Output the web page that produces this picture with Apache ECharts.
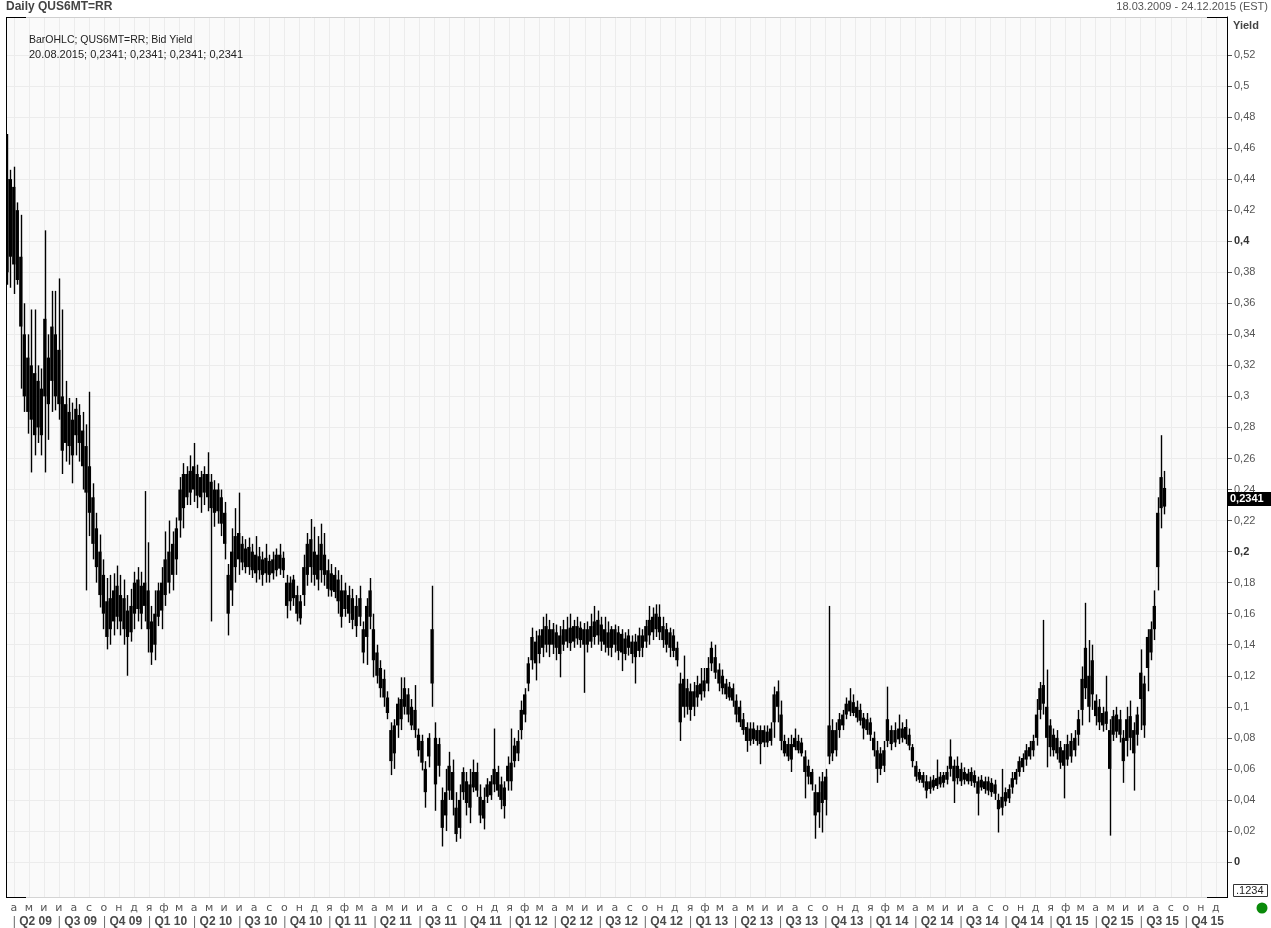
<!DOCTYPE html>
<html>
<head>
<meta charset="utf-8">
<style>
  html, body { margin: 0; padding: 0; background: #ffffff; }
  #chart { width: 1271px; height: 928px; }
</style>
<script src="https://cdn.jsdelivr.net/npm/echarts@6.0.0/dist/echarts.min.js"></script>
</head>
<body>
<div id="chart"></div>
<script>
// ---------------- DATA (weekly OHLC envelope, in units of 0.001 yield) ----------------
const firstBarDate = '2009-03-18';   // weekly bars from here, 7 days apart
const rangeStart = '2009-03-18';
const rangeEnd = '2015-12-24';

const wickLow = [
  372,370,366,372,305,290,276,251,262,270,
  262,251,272,290,291,285,250,258,256,244,
  262,258,240,175,210,195,180,164,150,137,
  140,146,150,146,140,120,142,150,155,150,
  155,135,127,130,152,150,165,173,175,185,
  209,215,230,230,232,228,225,230,226,155,
  216,218,210,195,146,165,180,185,188,186,
  185,183,180,182,178,180,180,182,184,185,
  183,157,162,165,155,153,165,178,180,178,
  175,180,178,171,171,170,160,151,158,154,
  150,145,152,128,127,150,119,115,106,100,
  92,56,60,80,85,95,90,85,80,68,
  59,35,61,100,33,55,10,20,40,30,
  13,15,40,30,25,45,42,25,21,38,
  40,45,42,34,28,46,46,61,65,79,
  90,110,124,117,128,132,135,132,134,130,
  119,136,138,136,138,140,138,109,135,138,
  140,140,136,135,133,132,135,130,123,130,
  133,128,115,132,132,138,140,143,145,143,
  138,135,132,132,126,78,93,95,91,94,
  100,104,106,110,123,118,110,108,105,104,
  100,90,87,82,71,75,76,75,63,74,
  74,75,80,90,72,68,65,58,72,70,
  68,41,50,46,15,22,19,30,63,65,
  68,80,85,92,94,94,90,88,79,82,
  78,68,51,56,58,74,72,74,76,77,
  76,72,61,52,51,48,41,44,46,47,
  48,48,50,55,38,50,49,50,50,49,
  48,30,46,44,43,42,40,19,30,36,
  38,44,50,55,58,62,66,68,75,92,
  95,61,68,68,66,60,41,62,64,68,
  75,88,105,90,98,88,85,84,85,17,
  78,80,77,51,68,72,46,75,85,80,
  110,130,143,175,215,224
];

const bodyLow = [
  380,390,385,375,345,300,290,285,275,280,
  275,300,295,310,300,295,265,270,268,262,
  275,270,255,238,225,205,190,172,160,145,
  150,155,158,155,150,145,148,160,163,160,
  165,150,135,140,158,162,172,180,185,195,
  220,228,235,238,240,236,235,238,235,228,
  225,226,218,205,160,175,190,195,193,190,
  190,188,186,188,185,186,185,186,188,189,
  188,165,168,170,160,157,172,185,190,185,
  182,188,185,176,175,174,168,158,163,160,
  156,152,158,135,145,158,130,120,112,106,
  96,65,70,88,92,100,95,88,85,72,
  64,45,68,115,50,62,22,30,46,40,
  18,22,45,38,35,48,46,30,28,42,
  43,50,46,40,36,52,52,65,70,85,
  95,115,130,128,134,138,140,140,140,138,
  134,140,142,141,142,144,143,140,140,142,
  145,146,142,140,138,138,140,136,135,134,
  138,134,132,136,138,142,146,148,150,148,
  143,140,138,136,130,90,100,100,98,100,
  106,108,110,115,128,122,115,112,108,106,
  104,95,90,85,78,78,79,78,76,77,
  77,78,90,100,78,70,68,66,74,72,
  70,58,55,50,30,32,38,40,68,70,
  72,85,88,95,97,96,93,91,86,85,
  82,72,60,60,62,78,76,77,79,80,
  79,75,65,55,53,51,46,47,48,49,
  50,51,53,60,52,54,52,53,52,52,
  51,44,48,47,46,45,44,34,35,39,
  41,48,53,58,61,66,68,72,80,98,
  102,80,74,72,70,64,62,66,68,72,
  82,98,112,100,108,94,90,88,89,60,
  82,84,82,65,78,80,70,82,105,88,
  125,135,150,190,228,229
];

const bodyHigh = [
  440,440,435,420,390,340,325,320,315,310,
  305,350,325,345,340,330,300,295,290,285,
  292,288,278,268,255,235,215,200,185,168,
  170,175,178,172,170,162,165,180,182,178,
  180,175,155,160,175,180,195,200,205,215,
  240,250,250,252,255,250,248,250,250,245,
  240,240,235,225,185,200,210,212,205,202,
  203,200,198,197,195,196,194,195,198,198,
  196,180,180,182,172,168,190,205,208,200,
  198,205,198,188,186,185,182,175,175,172,
  170,165,170,150,165,175,150,135,125,118,
  106,85,88,102,105,112,108,100,98,82,
  78,60,80,150,80,76,40,45,62,58,
  35,40,58,52,50,58,58,42,40,50,
  52,60,58,50,48,62,64,75,78,98,
  108,128,145,142,146,150,152,150,150,148,
  146,150,150,151,152,152,151,150,150,152,
  155,156,153,150,148,150,150,148,147,144,
  146,142,142,146,146,152,156,158,160,158,
  152,150,148,146,138,115,118,112,110,110,
  114,115,117,125,138,132,124,120,115,113,
  112,104,100,92,87,86,86,85,85,85,
  84,86,108,110,95,78,76,76,80,78,
  77,68,62,58,45,45,52,55,88,85,
  85,92,95,102,104,103,100,98,93,92,
  90,80,72,70,72,92,85,85,86,86,
  87,82,74,62,58,56,52,52,53,54,
  55,56,58,68,62,62,60,58,57,58,
  56,52,53,52,52,51,50,40,42,45,
  47,54,58,65,67,72,74,78,95,112,
  114,100,88,82,80,74,72,76,78,80,
  92,118,138,120,130,104,100,96,97,85,
  94,95,92,80,92,94,85,95,122,115,
  145,150,165,225,248,241
];

const wickHigh = [
  469,446,448,425,417,360,340,356,356,320,
  318,407,340,368,368,376,356,310,299,296,
  299,295,290,282,303,244,225,211,195,183,
  185,186,191,185,182,172,176,187,190,187,
  239,206,165,175,180,190,213,220,213,222,
  248,257,255,262,270,256,252,255,264,250,
  246,244,240,232,192,215,228,238,210,208,
  209,205,210,203,200,205,198,200,202,205,
  200,185,184,185,178,172,198,212,221,216,
  210,218,212,195,192,190,188,185,180,178,
  176,172,178,155,170,183,160,140,130,124,
  110,90,92,106,119,119,112,105,114,86,
  82,65,83,178,90,80,48,60,71,66,
  45,50,61,58,60,66,64,50,48,54,
  56,86,62,55,52,68,86,80,85,104,
  112,132,151,149,150,158,160,156,154,153,
  152,156,158,160,156,158,155,154,155,160,
  165,162,158,158,155,152,153,152,150,148,
  150,146,147,151,150,156,165,164,166,166,
  158,154,151,150,142,122,133,118,115,116,
  120,125,125,132,142,140,128,124,118,116,
  115,108,104,96,90,90,90,88,88,88,
  88,90,113,117,104,82,80,82,86,82,
  80,72,66,60,50,55,58,60,165,92,
  90,96,98,106,112,108,104,102,96,96,
  93,84,78,74,78,113,88,90,95,90,
  92,86,76,65,60,58,56,55,56,66,
  58,58,62,79,66,68,64,61,60,61,
  59,55,56,55,55,54,53,44,60,48,
  50,58,60,68,70,76,78,82,105,116,
  156,124,92,86,85,78,76,82,83,85,
  98,126,167,143,140,108,105,100,120,92,
  98,100,98,85,100,104,90,100,137,120,
  150,155,175,235,275,252
];

const lastValue = 0.2341;
const lastDateText = '20.08.2015';

// ---------------- TICK LABELS ----------------
const monthLetters = ['а','м','и','и','а','с','о','н','д','я','ф','м']; // April-first
const quarterLabels = ['Q2 09','Q3 09','Q4 09','Q1 10','Q2 10','Q3 10','Q4 10','Q1 11','Q2 11','Q3 11','Q4 11',
  'Q1 12','Q2 12','Q3 12','Q4 12','Q1 13','Q2 13','Q3 13','Q4 13','Q1 14','Q2 14','Q3 14','Q4 14',
  'Q1 15','Q2 15','Q3 15','Q4 15'];
const yTicks = [0,0.02,0.04,0.06,0.08,0.1,0.12,0.14,0.16,0.18,0.2,0.22,0.24,0.26,0.28,0.3,
  0.32,0.34,0.36,0.38,0.4,0.42,0.44,0.46,0.48,0.5,0.52];
const boldTicks = [0, 0.2, 0.4];

// ---------------- helpers ----------------
function parseUTC(s){ const p = s.split('-').map(Number); return Date.UTC(p[0], p[1]-1, p[2]); }
// position in months since 1 April 2009 (each month same width)
function monthPos(t){
  const d = new Date(t);
  const y = d.getUTCFullYear(), m = d.getUTCMonth(), day = d.getUTCDate();
  const dim = new Date(Date.UTC(y, m+1, 0)).getUTCDate();
  return (y-2009)*12 + (m-3) + (day-1)/dim;
}
const DAY = 86400000;
const t0 = parseUTC(firstBarDate);
const bars = wickLow.map((lo, i) => [
  monthPos(t0 + i*7*DAY), lo/1000, bodyLow[i]/1000, bodyHigh[i]/1000, wickHigh[i]/1000
]);
const monthTicks = Array.from({length: 81}, (_, k) => k);
const quarterTicks = quarterLabels.map((_, k) => k*3);

const xMin = monthPos(parseUTC(rangeStart));
const xMax = monthPos(parseUTC(rangeEnd));
const yMin = -35/1552, yMax = 845/1552;

const fmtComma = v => String(+v.toFixed(4)).replace('.', ',');
const FONT = '"Liberation Sans", Arial, sans-serif';
const TFONT = '"DejaVu Sans", "Liberation Sans", sans-serif';

const chart = echarts.init(document.getElementById('chart'), null, {renderer: 'canvas'});
const option = {
  animation: false,
  backgroundColor: '#ffffff',
  grid: { left: 7, right: 44, top: 17, bottom: 31, show: true, backgroundColor: '#fafafa', borderWidth: 0 },
  xAxis: [
    {
      type: 'value', min: xMin, max: xMax, position: 'bottom',
      axisLine: { show: true, onZero: false, lineStyle: { color: '#d4d4d4', width: 1 } },
      axisTick: { show: false, customValues: monthTicks },
      splitLine: { show: true, lineStyle: { color: '#ececec', width: 1 } },
      axisLabel: {
        customValues: monthTicks, margin: 6, color: '#555', fontSize: 11, fontFamily: TFONT,
        formatter: v => monthLetters[((Math.round(v) % 12) + 12) % 12]
      }
    },
    {
      type: 'value', min: xMin, max: xMax, position: 'bottom', offset: 13,
      axisLine: { show: false, onZero: false }, axisTick: { show: false, customValues: quarterTicks },
      splitLine: { show: false },
      axisLabel: {
        customValues: quarterTicks, margin: 6, align: 'left', fontFamily: FONT,
        formatter: v => '{s||} {q|' + quarterLabels[Math.round(v/3)] + '}',
        rich: {
          s: { color: '#666', fontSize: 12, fontFamily: FONT, padding: [0, 0, 0, -1] },
          q: { color: '#4a4a4a', fontSize: 12, fontWeight: 'bold', fontFamily: FONT }
        }
      }
    }
  ],
  yAxis: {
    type: 'value', position: 'right', min: yMin, max: yMax,
    axisLine: { show: true, onZero: false, lineStyle: { color: '#000', width: 1 } },
    axisTick: { show: true, inside: false, length: 5, lineStyle: { color: '#555' }, customValues: yTicks },
    splitLine: { show: true, lineStyle: { color: '#ececec', width: 1 } },
    axisLabel: {
      customValues: yTicks, margin: 7, fontFamily: FONT,
      formatter: v => {
        const isBold = boldTicks.some(b => Math.abs(b - v) < 1e-6);
        return (isBold ? '{b|' : '{n|') + fmtComma(v) + '}';
      },
      rich: {
        n: { color: '#555', fontSize: 11, fontFamily: FONT },
        b: { color: '#333', fontSize: 11, fontWeight: 'bold', fontFamily: FONT }
      }
    }
  },
  series: [{
    type: 'custom',
    xAxisIndex: 0,
    clip: true,
    encode: { x: 0, y: [1, 2, 3, 4] },
    data: bars,
    renderItem: function (params, api) {
      const x = api.value(0);
      const pLo = api.coord([x, api.value(1)]);
      const pB1 = api.coord([x, api.value(2)]);
      const pB2 = api.coord([x, api.value(3)]);
      const pHi = api.coord([x, api.value(4)]);
      const w = 3.3;
      return {
        type: 'group',
        children: [
          { type: 'line', shape: { x1: Math.round(pLo[0]) + 0.5, y1: pLo[1], x2: Math.round(pHi[0]) + 0.5, y2: pHi[1] },
            style: { stroke: '#000', lineWidth: 1.4 } },
          { type: 'rect', shape: { x: pB1[0] - w/2, y: pB2[1], width: w, height: Math.max(1.5, pB1[1] - pB2[1]) },
            style: { fill: '#000' } }
        ]
      };
    }
  }]
};
chart.setOption(option);

// --------- decorations (frame, titles, last-value tag) ---------
const yLast = chart.convertToPixel({ yAxisIndex: 0 }, lastValue);
const L = 6, R = 1227, T = 17, B = 897;
const g = [];
const line = (x1, y1, x2, y2, c, w) => ({ type: 'line', shape: { x1, y1, x2, y2 }, style: { stroke: c, lineWidth: w || 1 }, silent: true, z: 10 });
g.push(line(L, T + 0.5, R, T + 0.5, '#cfcfcf'));
g.push(line(L + 0.5, T, L + 0.5, B, '#000'));
g.push(line(R + 0.5, T, R + 0.5, B + 1, '#000'));
g.push(line(L, T + 0.5, L + 20, T + 0.5, '#000'));
g.push(line(L, B + 0.5, L + 20, B + 0.5, '#000'));
g.push(line(R - 20, T + 0.5, R, T + 0.5, '#000'));
g.push(line(R - 20, B + 0.5, R, B + 0.5, '#000'));
g.push({ type: 'text', left: 6, top: 1, z: 10,
  style: { text: 'Daily QUS6MT=RR', fill: '#444', font: 'bold 12px ' + FONT } });
g.push({ type: 'text', right: 3, top: 1, z: 10,
  style: { text: '18.03.2009 - 24.12.2015 (EST)', fill: '#555', font: '11px ' + FONT } });
g.push({ type: 'text', left: 1233, top: 20, z: 10,
  style: { text: 'Yield', fill: '#444', font: 'bold 11px ' + FONT } });
g.push({ type: 'text', left: 29, top: 35, z: 10,
  style: { text: 'BarOHLC; QUS6MT=RR; Bid Yield', fill: '#222', font: '10.5px ' + FONT } });
g.push({ type: 'text', left: 29, top: 49, z: 10,
  style: { text: lastDateText + '; ' + [lastValue, lastValue, lastValue, lastValue].map(fmtComma).join('; '), fill: '#222', font: '11px ' + FONT } });
g.push({ type: 'rect', shape: { x: 1228, y: Math.round(yLast) - 7, width: 43, height: 14 }, style: { fill: '#000' }, z: 20 });
g.push({ type: 'text', x: 1230, y: Math.round(yLast), z: 21,
  style: { text: fmtComma(lastValue), fill: '#fff', font: 'bold 11px ' + FONT, verticalAlign: 'middle' } });
g.push({ type: 'rect', shape: { x: 1233.5, y: 884.5, width: 34, height: 12 }, style: { fill: '#fff', stroke: '#333', lineWidth: 1 }, z: 20 });
g.push({ type: 'text', x: 1236, y: 891, z: 21,
  style: { text: '.1234', fill: '#222', font: '11px ' + FONT, verticalAlign: 'middle' } });
g.push({ type: 'circle', shape: { cx: 1262, cy: 908, r: 5.5 }, style: { fill: '#0a8a0a' }, z: 20 });
chart.setOption({ graphic: { elements: g } });
</script>
</body>
</html>
